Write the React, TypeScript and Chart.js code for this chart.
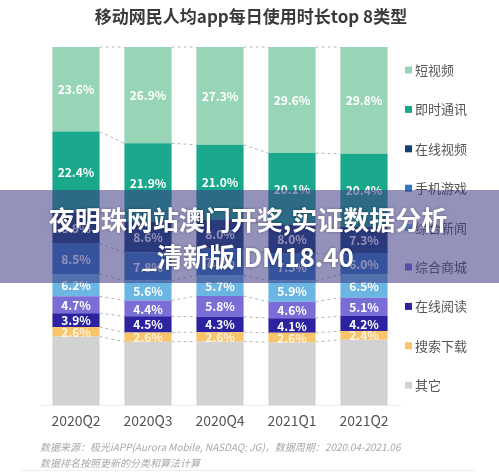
import React, { useEffect, useRef } from "react";
import { Chart, registerables } from "chart.js";

Chart.register(...registerables);

const quarters = ["2020Q2", "2020Q3", "2020Q4", "2021Q1", "2021Q2"];

// stacked bottom -> top
const seriesNames = ["其它", "搜索下载", "在线阅读", "综合商城", "综合新闻", "手机游戏", "在线视频", "即时通讯", "短视频"];
const otherVals = [19.2, 17.7, 17.8, 17.6, 18.3];
const searchVals = [2.6, 2.6, 2.6, 2.6, 2.4];
const readingVals = [3.9, 4.5, 4.3, 4.1, 4.2];
const mallVals = [4.7, 4.4, 5.8, 4.6, 5.1];
const newsVals = [6.2, 5.6, 5.7, 5.9, 6.5];
const gameVals = [8.5, 7.8, 7.5, 7.5, 6.0];
const videoVals = [8.9, 8.6, 8.0, 8.0, 7.3];
const imVals = [22.4, 21.9, 21.0, 20.1, 20.4];
const shortVideoVals = [23.6, 26.9, 27.3, 29.6, 29.8];

const seriesValues = [otherVals, searchVals, readingVals, mallVals, newsVals, gameVals, videoVals, imVals, shortVideoVals];
const seriesColors = ["#d2d2d2", "#f8c46a", "#2d23a0", "#786ed6", "#6cb6e4", "#2d78be", "#183e78", "#1aa88c", "#98d5b6"];

const titleText = "移动网民人均app每日使用时长top 8类型";
const noteLines = [
  "数据来源：极光iAPP(Aurora Mobile, NASDAQ: JG)，数据周期：2020.04-2021.06",
  "数据排名按照更新的分类和算法计算",
];
const bannerLines = ["夜明珠网站澳门开奖,实证数据分析", "_清新版IDM18.40"];

const FONT = '"Noto Sans CJK SC", "Noto Sans", sans-serif';

const decorPlugin = {
  id: "decor",
  beforeDatasetsDraw(chart: any) {
    const ctx = chart.ctx;
    ctx.save();
    ctx.strokeStyle = "#b5b5b5";
    ctx.lineWidth = 1;
    ctx.setLineDash([3, 3]);
    chart.data.datasets.forEach((_: any, di: number) => {
      const meta = chart.getDatasetMeta(di);
      for (let i = 0; i < meta.data.length - 1; i++) {
        const a = meta.data[i];
        const b = meta.data[i + 1];
        ctx.beginPath();
        ctx.moveTo(a.x + a.width / 2, a.y);
        ctx.lineTo(b.x - b.width / 2, b.y);
        ctx.stroke();
      }
    });
    ctx.restore();
  },
  afterDatasetsDraw(chart: any) {
    const ctx = chart.ctx;
    ctx.save();
    ctx.font = `bold 12px ${FONT}`;
    ctx.textAlign = "center";
    ctx.textBaseline = "middle";
    chart.data.datasets.forEach((ds: any, di: number) => {
      if (di === 0) return;
      const meta = chart.getDatasetMeta(di);
      meta.data.forEach((el: any, i: number) => {
        ctx.fillStyle = di === 1 ? "#fdf3e0" : "#ffffff";
        ctx.fillText(ds.data[i].toFixed(1) + "%", el.x, (el.y + el.base) / 2 + 0.5);
      });
    });
    ctx.restore();
  },
  afterDraw(chart: any) {
    const ctx = chart.ctx;
    ctx.save();
    // title
    ctx.fillStyle = "#3a3a3a";
    ctx.font = `bold 17px ${FONT}`;
    ctx.textAlign = "center";
    ctx.textBaseline = "middle";
    ctx.fillText(titleText, 251, 17);

    // legend (top of stack first)
    ctx.textAlign = "left";
    ctx.font = `13px ${FONT}`;
    const n = chart.data.datasets.length;
    for (let k = 0; k < n; k++) {
      const di = n - 1 - k;
      const ds = chart.data.datasets[di];
      const y = 70 + k * 39.4;
      ctx.fillStyle = ds.backgroundColor;
      ctx.fillRect(405, y - 3.5, 7, 7);
      ctx.fillStyle = "#555555";
      ctx.fillText(ds.label, 415, y);
    }

    // notes
    ctx.fillStyle = "#a8a8a8";
    ctx.font = `italic 10px ${FONT}`;
    ctx.fillText(noteLines[0], 40, 447);
    ctx.fillText(noteLines[1], 40, 463);
    ctx.strokeStyle = "#eeeeee";
    ctx.lineWidth = 1;
    ctx.beginPath();
    ctx.moveTo(20, 470.5);
    ctx.lineTo(476, 470.5);
    ctx.stroke();

    // banner overlay
    ctx.fillStyle = "rgba(60,55,130,0.55)";
    ctx.fillRect(0, 190, chart.width, 93);
    ctx.fillStyle = "#ffffff";
    ctx.font = `bold 26px ${FONT}`;
    ctx.textAlign = "center";
    ctx.shadowColor = "rgba(0,0,0,0.35)";
    ctx.shadowBlur = 3;
    ctx.fillText(bannerLines[0], 248, 220);
    ctx.fillText(bannerLines[1], 248, 257);
    ctx.restore();
  },
};

export default function App() {
  const ref = useRef<HTMLCanvasElement | null>(null);
  useEffect(() => {
    if (!ref.current) return;
    const chart = new Chart(ref.current, {
      type: "bar",
      data: {
        labels: quarters,
        datasets: seriesNames.map((name, i) => ({
          label: name,
          data: seriesValues[i],
          backgroundColor: seriesColors[i],
          borderWidth: 0,
          categoryPercentage: 1,
          barPercentage: 0.655,
        })),
      },
      options: {
        animation: false,
        responsive: false,
        layout: { padding: { top: 47, left: 40, right: 99, bottom: 38 } },
        plugins: {
          legend: { display: false },
          title: { display: false },
          tooltip: { enabled: false },
        },
        scales: {
          x: {
            stacked: true,
            grid: { display: false, drawTicks: false },
            border: { display: true, color: "#ececec", width: 1 },
            ticks: { color: "#555555", font: { size: 14, family: FONT }, padding: 7 },
          },
          y: {
            stacked: true,
            display: false,
            min: 0,
            max: 100,
          },
        },
      },
      plugins: [decorPlugin],
    });
    return () => chart.destroy();
  }, []);
  return (
    <div style={{ position: "fixed", left: 0, top: 0, width: 499, height: 474, background: "#fff" }}>
      <canvas ref={ref} width={499} height={474} style={{ display: "block" }} />
    </div>
  );
}
